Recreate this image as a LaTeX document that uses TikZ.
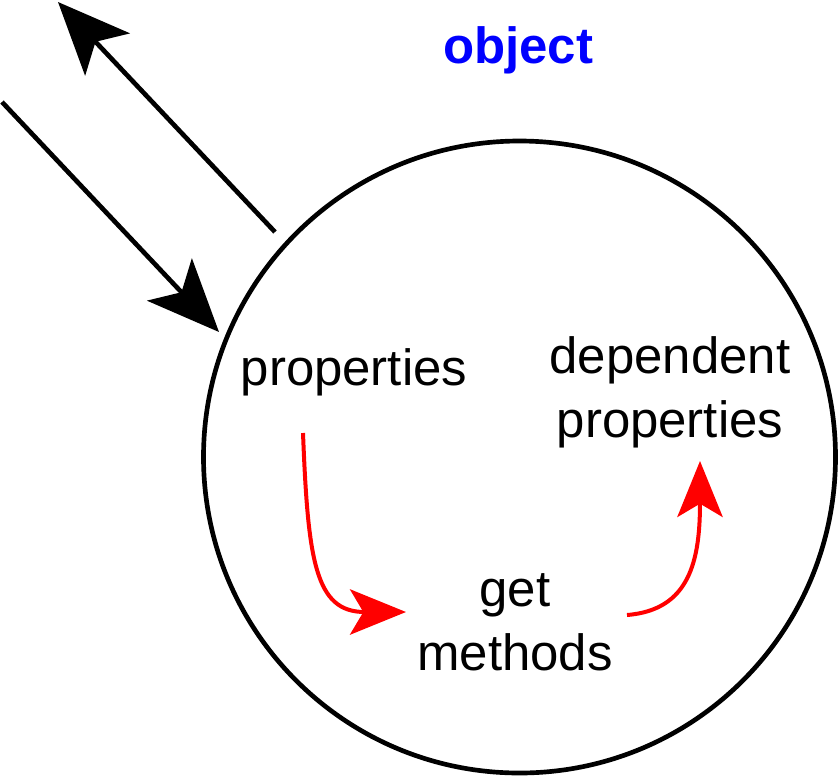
\documentclass[tikz,border=0pt]{standalone}
\usepackage{fontspec}
\setmainfont{Liberation Sans}
\usetikzlibrary{arrows.meta}
\begin{document}
\begin{tikzpicture}[x=0.75pt,y=-0.75pt,
  lbl/.style={font=\fontsize{38.2}{48}\selectfont, align=center, inner sep=0pt},
  blk/.style={line width=3.5pt, -{Stealth[length=54pt,width=46pt,inset=13pt]}},
  red/.style={draw=red, line width=3pt, -{Stealth[length=42pt,width=34pt,inset=10pt]}}]
\useasboundingbox (0,0) rectangle (839,776);
\node[draw, line width=3.5pt, circle, minimum size=632*0.75pt, inner sep=0pt] (obj) at (519.5,457) {};
\node[lbl, text=blue, font=\fontsize{38.2}{48}\selectfont\bfseries] (title) at (518,50) {object};
\node[lbl] (props) at (354,372) {properties};
\node[lbl] (dep) at (670,392) {dependent\\properties};
\node[lbl] (get) at (515,622) {get\\methods};
\coordinate (a1s) at (275,232);
\coordinate (a1e) at (58,2);
\coordinate (a2s) at (2,102);
\coordinate (a2e) at (219,332);
\coordinate (r1s) at (303,433);
\coordinate (r1e) at (406,612);
\coordinate (r2s) at (627,615);
\coordinate (r2e) at (700,461);
\draw[blk] (a1s) -- (a1e);
\draw[blk] (a2s) -- (a2e);
\draw[red] (r1s) .. controls (308,560) and (315,612) .. (r1e);
\draw[red] (r2s) .. controls (690,610) and (700,560) .. (r2e);
\end{tikzpicture}
\end{document}
